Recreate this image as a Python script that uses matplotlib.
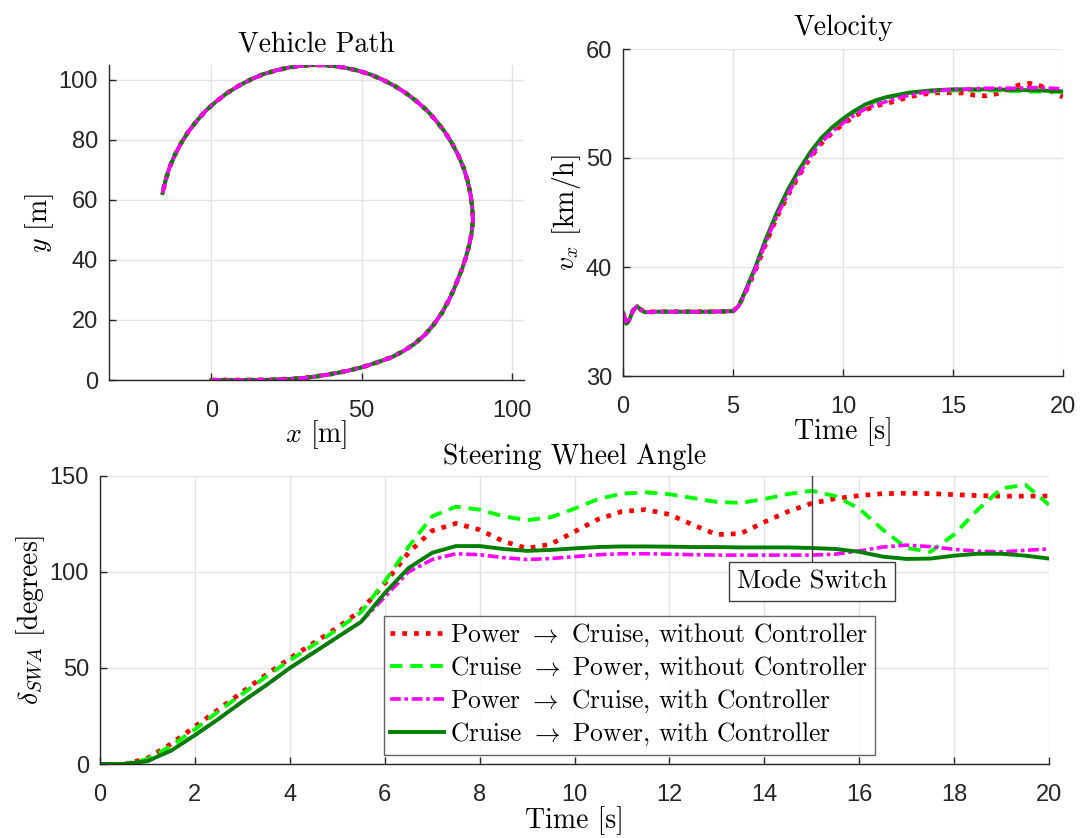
import matplotlib
matplotlib.use("Agg")
import matplotlib.pyplot as plt

plt.rcParams["mathtext.fontset"] = "cm"
plt.rcParams["font.family"] = ["Liberation Sans", "DejaVu Sans"]

# ---------------- data ----------------
# vehicle path (all four runs overlap)
path_x = [0, 5, 10, 15, 20, 25, 30, 35, 40, 45, 50, 55, 60, 64, 67.5, 71, 74,
          76.8, 79.0, 80.6, 82.0, 83.4, 84.7, 85.8, 86.5, 87.0, 86.8, 86.2, 85.2,
          83.9, 82.1, 80.0, 77.6, 74.8, 71.8, 68.4, 64.8, 61.0, 57.0, 52.8, 48.5,
          44.0, 39.5, 35.0, 30.5, 26.0, 21.5, 17.2, 13.0, 9.0, 5.2, 1.6, -1.8,
          -4.8, -7.6, -10.0, -12.1, -13.9, -15.2, -16.2]
path_y = [0, 0, 0, 0.05, 0.1, 0.3, 0.6, 1.2, 2.0, 3.0, 4.2, 5.8, 7.6, 9.7, 12.0,
          15.0, 18.5, 22.5, 26.6, 30.0, 33.5, 37.0, 41.0, 45.0, 48.5, 53.0, 57.5,
          62.0, 66.5, 70.8, 75.0, 79.0, 82.8, 86.4, 89.8, 92.8, 95.6, 98.0, 100.1,
          101.9, 103.2, 104.2, 104.8, 105.0, 104.8, 104.2, 103.2, 101.9, 100.1,
          98.0, 95.6, 92.8, 89.8, 86.4, 82.8, 79.0, 75.0, 70.8, 66.5, 62.3]

# longitudinal velocity [km/h]
t_vel = [0, 0.15, 0.3, 0.45, 0.64, 0.8, 1.0, 1.5, 2, 3, 4, 5, 5.25, 5.5, 6, 6.5,
         7, 7.5, 8, 8.5, 9, 9.5, 10, 10.5, 11, 11.5, 12, 12.5, 13, 13.5, 14, 14.5,
         15, 15.5, 16, 16.5, 17, 17.5, 18, 18.5, 19, 19.5, 20]
vel_pc_nc = [35.8, 34.8, 35.2, 36.0, 36.4, 36.1, 35.85, 35.9, 35.9, 35.9, 35.9,
             35.95, 36.4, 37.4, 39.6, 42.2, 44.6, 46.6, 48.4, 50.0, 51.3, 52.3,
             53.1, 53.8, 54.4, 54.8, 55.0, 55.3, 55.6, 55.8, 55.95, 56.0, 56.0,
             55.95, 55.75, 55.7, 55.9, 56.3, 56.7, 56.85, 56.6, 56.1, 55.6]
vel_cp_nc = [35.8, 34.8, 35.2, 36.0, 36.4, 36.1, 35.85, 35.9, 35.9, 35.9, 35.9,
             35.95, 36.4, 37.5, 39.9, 42.5, 44.9, 47.0, 48.8, 50.4, 51.7, 52.7,
             53.5, 54.2, 54.8, 55.2, 55.5, 55.75, 55.95, 56.05, 56.1, 56.15, 56.2,
             56.2, 56.2, 56.2, 56.2, 56.15, 56.15, 56.1, 56.1, 56.1, 56.05]
vel_pc_c = [35.8, 34.8, 35.2, 36.0, 36.4, 36.1, 35.85, 35.9, 35.9, 35.9, 35.9,
            35.95, 36.4, 37.4, 39.7, 42.3, 44.7, 46.7, 48.5, 50.1, 51.4, 52.4,
            53.2, 53.9, 54.5, 54.9, 55.2, 55.5, 55.75, 55.95, 56.1, 56.2, 56.3,
            56.3, 56.35, 56.4, 56.4, 56.4, 56.4, 56.45, 56.45, 56.4, 56.35]
vel_cp_c = [35.8, 34.8, 35.2, 36.0, 36.4, 36.1, 35.85, 35.9, 35.9, 35.9, 35.9,
            35.95, 36.4, 37.5, 39.9, 42.6, 45.0, 47.1, 48.9, 50.5, 51.8, 52.8,
            53.6, 54.3, 54.9, 55.3, 55.6, 55.8, 56.0, 56.1, 56.2, 56.25, 56.3,
            56.3, 56.3, 56.3, 56.3, 56.25, 56.25, 56.2, 56.2, 56.15, 56.1]

# steering wheel angle [deg]
t_swa = [i * 0.5 for i in range(41)]
swa_pc_nc = [-0.5, -0.3, 3, 10.5, 19.5, 28.5, 37.5, 46.5, 55, 63, 71, 80, 94, 110,
             121.5, 125.3, 122, 116, 112.3, 114.5, 121, 127.5, 131.5, 132.5, 130,
             124.5, 119.5, 120, 126, 131.5, 135.8, 138.2, 139.8, 140.8, 141, 140.8,
             140.3, 139.8, 139.5, 139.5, 139.6]
swa_cp_nc = [0, 0, 2.5, 9.5, 18, 27.5, 36.5, 45.5, 54, 62, 70, 79, 95, 113, 129,
             134, 132.5, 129, 127, 128.5, 133, 138, 140.8, 141.5, 140.5, 138.5,
             136.5, 136, 138, 140.6, 142.3, 139.5, 133, 122, 112.5, 110.5, 119.5,
             132.5, 143.5, 145.5, 135]
swa_pc_c = [0, 0, 1.5, 7, 15, 23.5, 32.5, 41, 50, 58, 66, 74, 87, 100, 106.5,
            109.5, 109, 107.5, 106.5, 107, 108, 109, 109.5, 109.5, 109.3, 109,
            108.8, 108.8, 108.8, 108.8, 108.8, 109.3, 111, 113, 114, 113.2, 111.8,
            110.8, 110.5, 111.3, 112]
swa_cp_c = [0, 0, 1.5, 7, 15, 23.5, 32.5, 41, 50, 58, 66, 74, 89, 102, 110, 113.5,
            113.5, 112, 111, 111.5, 112.3, 113, 113.3, 113.3, 113.2, 113, 113,
            112.8, 112.8, 112.8, 112.5, 112, 110.5, 108, 106.8, 107, 108.5, 109.5,
            109.5, 108.5, 107]

labels = [r"Power $\rightarrow$ Cruise, without Controller",
          r"Cruise $\rightarrow$ Power, without Controller",
          r"Power $\rightarrow$ Cruise, with Controller",
          r"Cruise $\rightarrow$ Power, with Controller"]

# ---------------- styles ----------------
styles = [
    dict(color=(1, 0, 0), lw=3.4, linestyle=(0, (1.0, 1.5))),
    dict(color=(0, 1, 0), lw=2.8, linestyle=(0, (3.2, 2.0))),
    dict(color=(1, 0, 1), lw=2.6, linestyle=(0, (3.0, 1.0, 1.0, 1.0))),
    dict(color=(0, 0.5, 0), lw=2.8, linestyle="-"),
]
# drawing order for the overlapping path / velocity traces
overlay_order = [0, 1, 3, 2]

AX_COL = "#262626"
GRID_COL = "#e3e3e3"
SERIF = "cmr10"
TICK_FS = 17
LAB_FS = 20
LEG_FS = 18.4

W, H = 1083, 838
fig = plt.figure(figsize=(W / 100, H / 100), dpi=100)


def px_axes(left, right, top, bottom):
    return fig.add_axes([left / W, (H - bottom) / H, (right - left) / W, (bottom - top) / H])


def style_axes(ax):
    for s in ("top", "right"):
        ax.spines[s].set_visible(False)
    for s in ("left", "bottom"):
        ax.spines[s].set_color(AX_COL)
        ax.spines[s].set_linewidth(1.0)
    ax.tick_params(direction="in", length=5, width=1.0, color=AX_COL,
                   labelcolor=AX_COL, labelsize=TICK_FS)
    ax.tick_params(axis="x", pad=14.5)
    ax.tick_params(axis="y", pad=8)
    ax.grid(True, color=GRID_COL, lw=1.0)
    ax.set_axisbelow(True)


def serif_text(size):
    return dict(fontsize=size, fontfamily=SERIF)


# Vehicle path
ax1 = px_axes(109, 524, 65, 380)
for i in overlay_order:
    ax1.plot(path_x, path_y, **styles[i])
ax1.set_xlim(-34, 104)
ax1.set_ylim(0, 105)
ax1.set_xticks([0, 50, 100])
ax1.set_yticks([0, 20, 40, 60, 80, 100])
style_axes(ax1)
ax1.set_title("Vehicle Path", pad=10, **serif_text(LAB_FS))
ax1.set_xlabel(r"$x$ [m]", labelpad=-3, **serif_text(LAB_FS))
ax1.set_ylabel(r"$y$ [m]", labelpad=2, **serif_text(LAB_FS))

# Velocity
ax2 = px_axes(623, 1063, 49, 376)
vel_series = [vel_pc_nc, vel_cp_nc, vel_pc_c, vel_cp_c]
for i in overlay_order:
    ax2.plot(t_vel, vel_series[i], **styles[i])
ax2.set_xlim(0, 20)
ax2.set_ylim(30, 60)
ax2.set_xticks([0, 5, 10, 15, 20])
ax2.set_yticks([30, 40, 50, 60])
style_axes(ax2)
ax2.set_title("Velocity", pad=10, **serif_text(LAB_FS))
ax2.set_xlabel("Time [s]", labelpad=-1, **serif_text(LAB_FS))
ax2.set_ylabel(r"$v_x$ [km/h]", labelpad=2, **serif_text(LAB_FS))

# Steering wheel angle
ax3 = px_axes(100, 1049, 476, 764)
swa_series = [swa_pc_nc, swa_cp_nc, swa_pc_c, swa_cp_c]
for v, st, lab in zip(swa_series, styles, labels):
    ax3.plot(t_swa, v, label=lab, **st)
ax3.set_xlim(0, 20)
ax3.set_ylim(0, 150)
ax3.set_xticks(range(0, 21, 2))
ax3.set_yticks([0, 50, 100, 150])
style_axes(ax3)
ax3.set_title("Steering Wheel Angle", pad=9, **serif_text(LAB_FS))
ax3.set_xlabel("Time [s]", labelpad=0, **serif_text(LAB_FS))
ax3.set_ylabel(r"$\delta_{SWA}$ [degrees]", labelpad=2, **serif_text(LAB_FS))

# mode switch marker
switch_t = 15
ax3.plot([switch_t, switch_t], [105.5, 150], color="#404040", lw=1.0, zorder=5)
ax3.text(switch_t, 95, "Mode Switch", ha="center", va="center", zorder=6,
         bbox=dict(boxstyle="square,pad=0.3", fc="white", ec="#404040", lw=1.0),
         **serif_text(19))

leg = ax3.legend(loc="upper left", bbox_to_anchor=((384 - 100) / 949, (764 - 615.5) / 288),
                 prop=dict(family=SERIF, size=LEG_FS), frameon=True, fancybox=False,
                 edgecolor="#404040", handlelength=2.1, handletextpad=0.25,
                 labelspacing=0.22, borderpad=0.25, borderaxespad=0)
leg.get_frame().set_linewidth(1.0)

fig.savefig("out.png", dpi=100)
